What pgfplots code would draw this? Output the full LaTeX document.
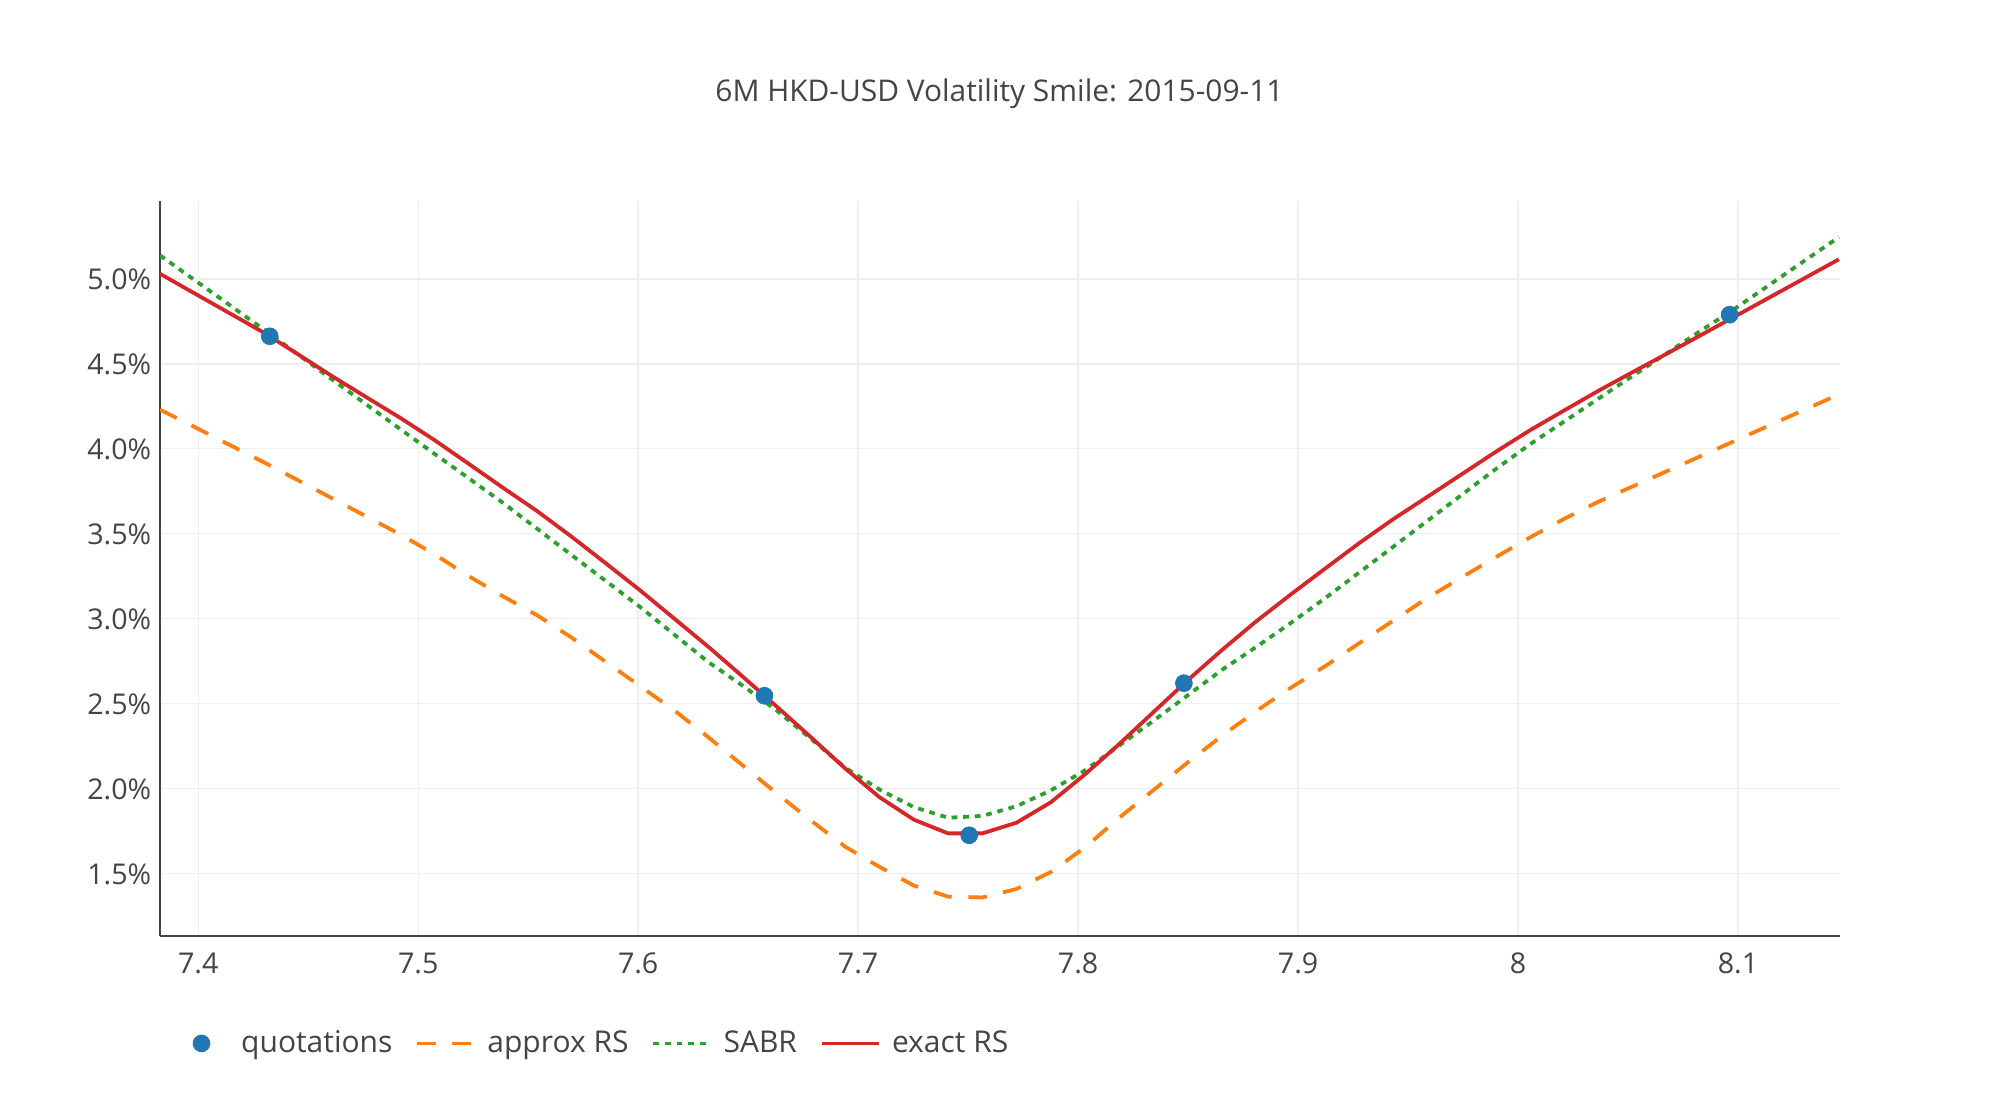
\documentclass[border=0pt]{standalone}
\usepackage{fontspec}
\setmainfont{Open Sans}
\usepackage{pgfplots}
\pgfplotsset{compat=1.18}
\definecolor{txt}{HTML}{444444}
\definecolor{cblue}{HTML}{1F77B4}
\definecolor{corange}{HTML}{FF7F0E}
\definecolor{cgreen}{HTML}{2CA02C}
\definecolor{cred}{HTML}{D62728}
\definecolor{gridc}{HTML}{EEEEEE}
\pgfplotsset{
  legline/.style={legend image code/.code={\draw[##1] (0pt,0pt) -- (28.5pt,0pt);}},
  legdash/.style={legend image code/.code={\draw[##1, dash pattern=on 9.5pt off 7.8pt] (0pt,0pt) -- (28.5pt,0pt);}},
  legmark/.style={legend image code/.code={\path[draw=none,fill=none] (0pt,0pt) -- (28.5pt,0pt); \draw[##1] plot coordinates {(14.25pt,0pt)};}},
}
\pgfplotstableread{
x approx sabr exact
7.3826 4.230 5.138 5.030
7.3982 4.129 4.994 4.915
7.4138 4.026 4.850 4.801
7.4293 3.924 4.706 4.687
7.4449 3.818 4.559 4.560
7.4605 3.711 4.411 4.430
7.4761 3.604 4.264 4.306
7.4917 3.497 4.117 4.183
7.5072 3.381 3.972 4.053
7.5228 3.252 3.828 3.913
7.5384 3.133 3.683 3.772
7.5540 3.021 3.530 3.634
7.5695 2.891 3.377 3.485
7.5851 2.748 3.224 3.328
7.6007 2.605 3.071 3.169
7.6163 2.462 2.908 3.002
7.6318 2.304 2.746 2.836
7.6474 2.138 2.607 2.661
7.6630 1.972 2.460 2.483
7.6786 1.812 2.293 2.302
7.6942 1.658 2.123 2.118
7.7097 1.540 1.995 1.950
7.7253 1.430 1.892 1.818
7.7409 1.365 1.829 1.737
7.7565 1.360 1.840 1.737
7.7720 1.410 1.897 1.800
7.7876 1.510 1.990 1.920
7.8032 1.655 2.108 2.085
7.8188 1.830 2.255 2.264
7.8343 1.992 2.400 2.451
7.8499 2.155 2.550 2.639
7.8655 2.312 2.700 2.817
7.8811 2.458 2.835 2.986
7.8967 2.594 2.975 3.143
7.9122 2.720 3.120 3.294
7.9278 2.856 3.272 3.445
7.9434 2.990 3.425 3.587
7.9590 3.124 3.578 3.719
7.9745 3.244 3.730 3.851
7.9901 3.364 3.883 3.984
8.0057 3.480 4.029 4.111
8.0213 3.590 4.163 4.228
8.0368 3.690 4.297 4.343
8.0524 3.780 4.431 4.453
8.0680 3.870 4.565 4.562
8.0836 3.960 4.699 4.672
8.0992 4.050 4.830 4.783
8.1147 4.140 4.968 4.893
8.1303 4.230 5.107 5.004
8.1459 4.320 5.245 5.115
}\curves
\pgfplotstableread{
x y
7.4325 4.662
7.6574 2.547
7.7505 1.726
7.8481 2.621
8.0962 4.789
}\quotes
\begin{document}
\begin{tikzpicture}
\useasboundingbox (-80pt,-80pt) rectangle (920pt,470pt);
\begin{axis}[
  at={(0pt,1.9pt)}, anchor=south west,
  scale only axis, width=840pt, height=367.6pt,
  xmin=7.3826, xmax=8.1464, ymin=1.132, ymax=5.458,
  axis lines*=left,
  axis line style={draw=txt, line width=0.9pt},
  xtick={7.4,7.5,7.6,7.7,7.8,7.9,8,8.1},
  xticklabels={7.4,7.5,7.6,7.7,7.8,7.9,8,8.1},
  ytick={1.5,2,2.5,3,3.5,4,4.5,5},
  yticklabels={1.5\%,2.0\%,2.5\%,3.0\%,3.5\%,4.0\%,4.5\%,5.0\%},
  major tick length=0pt,
  grid=major,
  major grid style={draw=gridc, line width=0.7pt},
  tick label style={font=\fontsize{14.3}{16}\selectfont, text=txt, inner sep=0pt},
  xticklabel style={anchor=base, yshift=-18.5pt},
  yticklabel style={anchor=base east, xshift=-4.2pt, yshift=-5.2pt},
  legend columns=-1,
  legend style={draw=none, fill=none, at={(0.0075,-0.1458)}, anchor=west,
    inner sep=0pt, font=\fontsize{15}{17}\selectfont, text=txt,
    nodes={inner sep=0pt},
    /tikz/every odd column/.append style={column sep=5.6pt},
    /tikz/every even column/.append style={column sep=11.5pt}},
]
\addplot[only marks, mark=*, mark size=4.2pt, color=cblue, legmark]
  table[x=x, y=y] {\quotes};
\addlegendentry{quotations}
\addplot[no marks, color=corange, line width=1.9pt, dash pattern=on 9.3pt off 8.3pt, legdash]
  table[x=x, y=approx] {\curves};
\addlegendentry{approx RS}
\addplot[no marks, color=cgreen, line width=1.9pt, dash pattern=on 2.9pt off 2.9pt, legline]
  table[x=x, y=sabr] {\curves};
\addlegendentry{SABR}
\addplot[no marks, color=cred, line width=1.9pt, legline]
  table[x=x, y=exact] {\curves};
\addlegendentry{exact RS}
\end{axis}
\node[font=\fontsize{14.95}{17}\selectfont, text=txt, anchor=base] at (419.7pt,419.3pt) {6M HKD-USD Volatility Smile: 2015-09-11};
\end{tikzpicture}
\end{document}
